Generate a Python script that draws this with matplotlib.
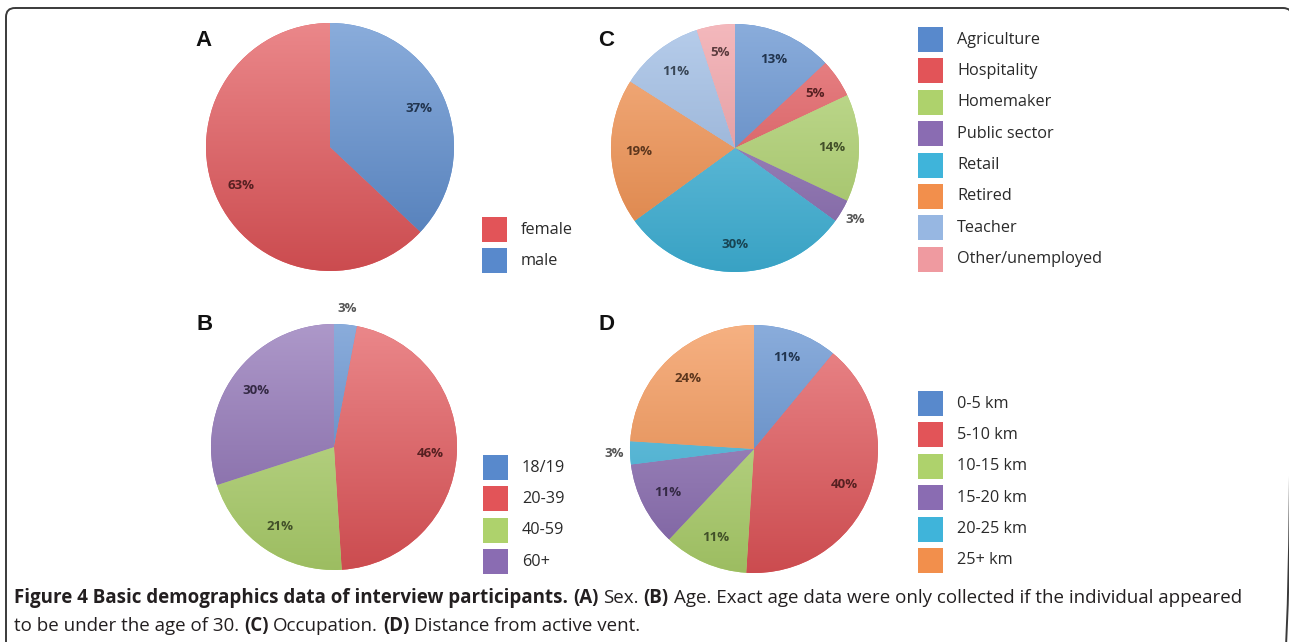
import matplotlib.pyplot as plt
import numpy as np
from matplotlib.colors import to_rgb
from matplotlib.patches import FancyBboxPatch, Rectangle

W, H = 1289, 642

sex_labels = ["female", "male"]
sex_values = [63, 37]

age_labels = ["18/19", "20-39", "40-59", "60+"]
age_values = [3, 46, 21, 30]

occupation_labels = ["Agriculture", "Hospitality", "Homemaker", "Public sector",
                     "Retail", "Retired", "Teacher", "Other/unemployed"]
occupation_values = [13, 5, 14, 3, 30, 19, 11, 5]

distance_labels = ["0-5 km", "5-10 km", "10-15 km", "15-20 km", "20-25 km", "25+ km"]
distance_values = [11, 40, 11, 11, 3, 24]

BLUE = "#5889cc"
RED = "#e25458"
GREEN = "#aed26c"
PURPLE = "#8a6cb2"
CYAN = "#3fb4da"
ORANGE = "#f28f4c"
LIGHTBLUE = "#97b7e2"
PINK = "#ef9aa0"

sex_colors = [RED, BLUE]
age_colors = [BLUE, RED, GREEN, PURPLE]
occupation_colors = [BLUE, RED, GREEN, PURPLE, CYAN, ORANGE, LIGHTBLUE, PINK]
distance_colors = [BLUE, RED, GREEN, PURPLE, CYAN, ORANGE]

TEXT = "#2a2a2a"
SANS = "Open Sans"


def mix(color, other, t):
    return tuple((1 - t) * a + t * b for a, b in zip(to_rgb(color), other))


def draw_pie(fig, cx, cy, r, values, colors, counterclock=False, outside=()):
    ax = fig.add_axes([(cx - r) / W, 1 - (cy + r) / H, 2 * r / W, 2 * r / H])
    wedges, _, autotexts = ax.pie(
        values, colors=colors, startangle=90, counterclock=counterclock,
        autopct="%.0f%%", pctdistance=0.78, wedgeprops=dict(linewidth=0),
        textprops=dict(fontsize=9.5, fontweight="bold", family=SANS),
    )
    # light-to-dark vertical shading, clipped to each slice
    for w, c in zip(wedges, colors):
        grad = np.linspace(mix(c, (1, 1, 1), 0.3), mix(c, (0, 0, 0), 0.1), 256)[:, None, :]
        im = ax.imshow(grad, extent=(-1, 1, -1, 1), origin="upper",
                       interpolation="bilinear", aspect="auto", zorder=1.5)
        im.set_clip_path(w)
    for i, t in enumerate(autotexts):
        t.set_zorder(3)
        t.set_color(mix(colors[i], (0, 0, 0), 0.62))
        if i in outside:
            x, y = t.get_position()
            t.set_position((x * 1.13 / 0.78, y * 1.13 / 0.78))
            t.set_color("#555555")
    ax.set_xlim(-1, 1)
    ax.set_ylim(-1, 1)
    ax.set_aspect("equal")
    ax.axis("off")
    return ax


def draw_legend(ov, x, y, labels, colors, step=31.4):
    for i, (lab, c) in enumerate(zip(labels, colors)):
        yy = y + i * step
        ov.add_patch(Rectangle((x, yy), 25, 25, facecolor=c, edgecolor="none"))
        ov.text(x + 39, yy + 12.5, lab, ha="left", va="center",
                fontsize=11.7, color=TEXT, family=SANS)


def draw_rich_line(ov, renderer, x, y, parts, size):
    probe = ov.text(0, 0, "a a", fontsize=size, family=SANS)
    probe2 = ov.text(0, 0, "aa", fontsize=size, family=SANS)
    space = probe.get_window_extent(renderer).width - probe2.get_window_extent(renderer).width
    probe.remove()
    probe2.remove()
    for text, bold in parts:
        t = ov.text(x, y, text, ha="left", va="baseline", fontsize=size,
                    fontweight="bold" if bold else "normal", color="#231f20", family=SANS)
        x += t.get_window_extent(renderer).width + space


fig = plt.figure(figsize=(W / 100, H / 100), dpi=100)

ov = fig.add_axes([0, 0, 1, 1])
ov.set_xlim(0, W)
ov.set_ylim(H, 0)
ov.axis("off")

ov.add_patch(FancyBboxPatch((6, 8), 1286, 660, boxstyle="round,pad=0,rounding_size=9",
                            facecolor="none", edgecolor="#3a3a3a", lw=1.4, clip_on=False))

draw_pie(fig, 330, 147, 124, sex_values, sex_colors, counterclock=True)
draw_pie(fig, 334, 447, 123, age_values, age_colors, outside=(0,))
draw_pie(fig, 735, 148, 124, occupation_values, occupation_colors, outside=(3,))
draw_pie(fig, 754, 449, 124, distance_values, distance_colors, outside=(4,))

for letter, (lx, ly) in zip("ABCD", [(204, 41), (205, 325), (606, 41), (606, 325)]):
    ov.text(lx, ly, letter, ha="center", va="center", fontsize=16,
            fontweight="bold", family="Liberation Sans", color="#111111")

draw_legend(ov, 482, 217, sex_labels, sex_colors)
draw_legend(ov, 483, 455, age_labels, age_colors)
draw_legend(ov, 918, 27, occupation_labels, occupation_colors)
draw_legend(ov, 918, 391, distance_labels, distance_colors)

renderer = fig.canvas.get_renderer()
line1 = [("Figure 4 Basic demographics data of interview participants.", True),
         ("(A)", True), ("Sex.", False), ("(B)", True),
         ("Age. Exact age data were only collected if the individual appeared", False)]
line2 = [("to be under the age of 30.", False), ("(C)", True), ("Occupation.", False),
         ("(D)", True), ("Distance from active vent.", False)]
draw_rich_line(ov, renderer, 14, 603, line1, 13.5)
draw_rich_line(ov, renderer, 14, 631, line2, 13.5)

fig.savefig("out.png", dpi=100, facecolor="white")
